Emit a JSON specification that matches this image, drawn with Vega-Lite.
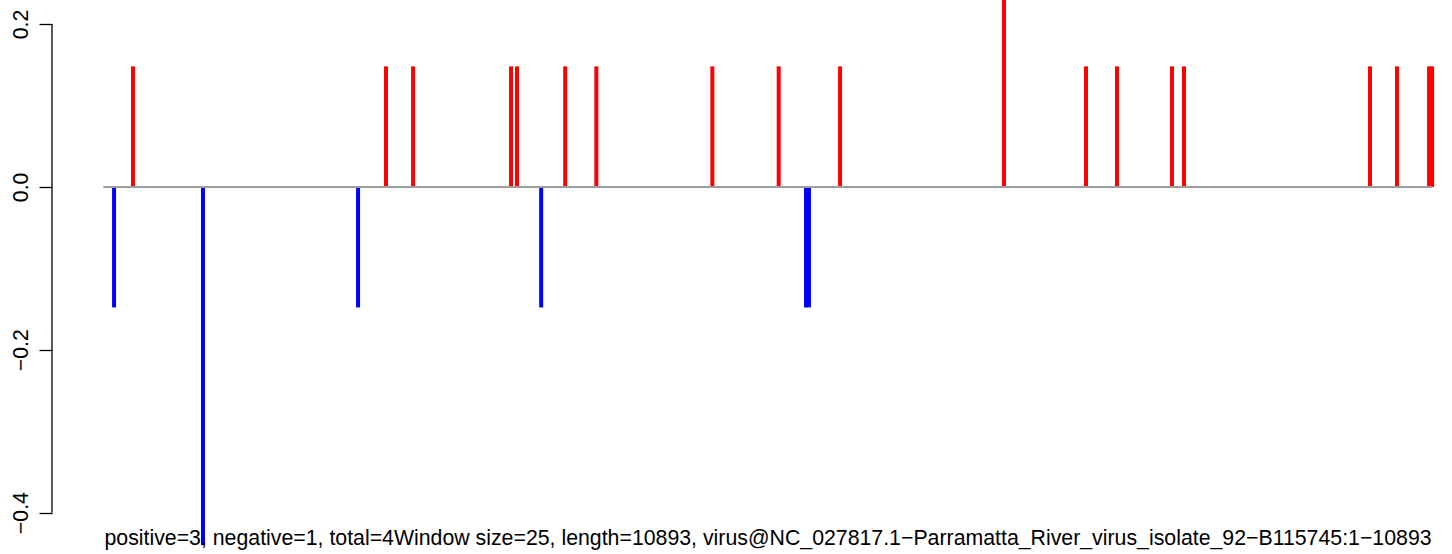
{
  "$schema": "https://vega.github.io/schema/vega-lite/v6.json",
  "width": 1452,
  "height": 554,
  "autosize": {"type": "none"},
  "padding": 0,
  "background": "white",
  "config": {"view": {"stroke": null}},
  "title": {
    "text": "positive=3, negative=1, total=4Window size=25, length=10893, virus@NC_027817.1−Parramatta_River_virus_isolate_92−B115745:1−10893",
    "orient": "bottom",
    "anchor": "middle",
    "frame": "group",
    "dx": 42,
    "offset": -9,
    "baseline": "alphabetic",
    "font": "Liberation Sans",
    "fontSize": 21.3,
    "fontWeight": "normal",
    "color": "black"
  },
  "layer": [
    {
      "data": {"values": [
        {"pos": 89, "value": -0.148, "sign": "neg"},
        {"pos": 244, "value": 0.148, "sign": "pos"},
        {"pos": 818, "value": -0.44, "sign": "neg"},
        {"pos": 2089, "value": -0.148, "sign": "neg"},
        {"pos": 2318, "value": 0.148, "sign": "pos"},
        {"pos": 2540, "value": 0.148, "sign": "pos"},
        {"pos": 3343, "value": 0.148, "sign": "pos"},
        {"pos": 3392, "value": 0.148, "sign": "pos"},
        {"pos": 3590, "value": -0.148, "sign": "neg"},
        {"pos": 3787, "value": 0.148, "sign": "pos"},
        {"pos": 4042, "value": 0.148, "sign": "pos"},
        {"pos": 4993, "value": 0.148, "sign": "pos"},
        {"pos": 5537, "value": 0.148, "sign": "pos"},
        {"pos": 5761, "value": -0.148, "sign": "neg"},
        {"pos": 5785, "value": -0.148, "sign": "neg"},
        {"pos": 6040, "value": 0.148, "sign": "pos"},
        {"pos": 7384, "value": 0.296, "sign": "pos"},
        {"pos": 8056, "value": 0.148, "sign": "pos"},
        {"pos": 8310, "value": 0.148, "sign": "pos"},
        {"pos": 8761, "value": 0.148, "sign": "pos"},
        {"pos": 8859, "value": 0.148, "sign": "pos"},
        {"pos": 10384, "value": 0.148, "sign": "pos"},
        {"pos": 10605, "value": 0.148, "sign": "pos"},
        {"pos": 10868, "value": 0.148, "sign": "pos"},
        {"pos": 10893, "value": 0.148, "sign": "pos"}
      ]},
      "mark": {"type": "rule", "strokeWidth": 4, "strokeCap": "butt", "clip": true},
      "encoding": {
        "x": {"field": "pos", "type": "quantitative", "scale": {"domain": [-846, 11056], "nice": false, "zero": false}, "axis": null},
        "y": {
          "field": "value", "type": "quantitative",
          "scale": {"domain": [-0.4508, 0.2295], "nice": false, "zero": false},
          "axis": {
            "orient": "left",
            "offset": -52,
            "values": [-0.4, -0.2, 0, 0.2],
            "format": ".1f",
            "domain": false,
            "grid": false,
            "title": null,
            "ticks": true,
            "tickSize": 13,
            "tickWidth": 1.3,
            "tickColor": "black",
            "labelAngle": -90,
            "labelAlign": "center",
            "labelBaseline": "alphabetic",
            "labelPadding": 12,
            "labelFont": "Liberation Sans",
            "labelFontSize": 21.3,
            "labelColor": "black",
            "labelFlush": false,
            "labelOverlap": false
          }
        },
        "y2": {"datum": 0},
        "color": {"field": "sign", "type": "nominal", "scale": {"domain": ["pos", "neg"], "range": ["#FF0000", "#0000FF"]}, "legend": null}
      }
    },
    {
      "data": {"values": [{"start": 1, "end": 10893}]},
      "mark": {"type": "rule", "color": "#9E9E9E", "strokeWidth": 2},
      "encoding": {
        "x": {"field": "start", "type": "quantitative"},
        "x2": {"field": "end"},
        "y": {"datum": 0, "type": "quantitative"}
      }
    },
    {
      "data": {"values": [{"lo": -0.4, "hi": 0.2, "at": -420}]},
      "mark": {"type": "rule", "color": "black", "strokeWidth": 1.3},
      "encoding": {
        "x": {"field": "at", "type": "quantitative"},
        "y": {"field": "lo", "type": "quantitative"},
        "y2": {"field": "hi"}
      }
    }
  ]
}
